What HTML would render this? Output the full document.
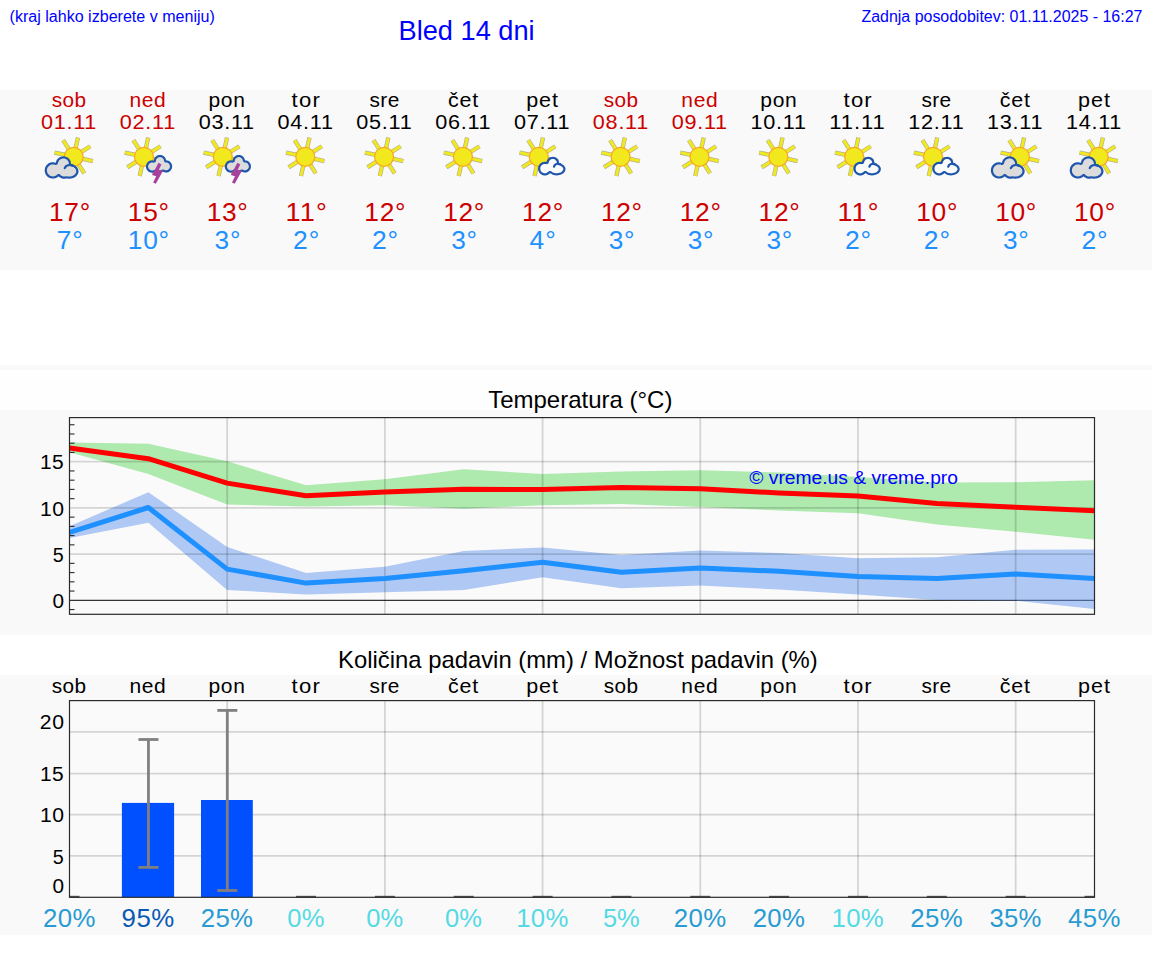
<!DOCTYPE html>
<html><head><meta charset="utf-8"><title>Bled 14 dni</title>
<style>
html,body{margin:0;padding:0;background:#ffffff;}
body{width:1152px;height:975px;position:relative;overflow:hidden;font-family:"Liberation Sans",sans-serif;}
text{font-family:"Liberation Sans",sans-serif;}
</style></head><body>
<svg width="1152" height="975" viewBox="0 0 1152 975" style="position:absolute;left:0;top:0" font-family="Liberation Sans, sans-serif">
<defs><g id="sun"><line x1="1.84" y1="-8.3" x2="4.26" y2="-19.23" stroke="#aeae98" stroke-width="4.3"/><line x1="7.17" y1="-4.57" x2="16.61" y2="-10.58" stroke="#aeae98" stroke-width="4.3"/><line x1="8.3" y1="1.84" x2="19.23" y2="4.26" stroke="#aeae98" stroke-width="4.3"/><line x1="4.57" y1="7.17" x2="10.58" y2="16.61" stroke="#aeae98" stroke-width="4.3"/><line x1="-1.84" y1="8.3" x2="-4.26" y2="19.23" stroke="#aeae98" stroke-width="4.3"/><line x1="-7.17" y1="4.57" x2="-16.61" y2="10.58" stroke="#aeae98" stroke-width="4.3"/><line x1="-8.3" y1="-1.84" x2="-19.23" y2="-4.26" stroke="#aeae98" stroke-width="4.3"/><line x1="-4.57" y1="-7.17" x2="-10.58" y2="-16.61" stroke="#aeae98" stroke-width="4.3"/><line x1="1.84" y1="-8.3" x2="4.2" y2="-18.94" stroke="#f1e91e" stroke-width="3.0"/><line x1="7.17" y1="-4.57" x2="16.37" y2="-10.43" stroke="#f1e91e" stroke-width="3.0"/><line x1="8.3" y1="1.84" x2="18.94" y2="4.2" stroke="#f1e91e" stroke-width="3.0"/><line x1="4.57" y1="7.17" x2="10.43" y2="16.37" stroke="#f1e91e" stroke-width="3.0"/><line x1="-1.84" y1="8.3" x2="-4.2" y2="18.94" stroke="#f1e91e" stroke-width="3.0"/><line x1="-7.17" y1="4.57" x2="-16.37" y2="10.43" stroke="#f1e91e" stroke-width="3.0"/><line x1="-8.3" y1="-1.84" x2="-18.94" y2="-4.2" stroke="#f1e91e" stroke-width="3.0"/><line x1="-4.57" y1="-7.17" x2="-10.43" y2="-16.37" stroke="#f1e91e" stroke-width="3.0"/><circle r="9.5" fill="#f1e91e" stroke="#f7a826" stroke-width="1.2"/></g><g id="cbig"><path d="M-2.7,6.2 L-2.9,5.2 L-3.2,4.3 L-3.6,3.4 L-3.9,2.9 L-4.2,2.5 L-4.9,1.8 L-5.6,1.1 L-6.4,0.5 L-7.4,0.1 L-7.8,-0.1 L-8.8,-0.4 L-9.8,-0.5 L-10.3,-0.5 L-11.3,-0.4 L-12.3,-0.2 L-13.2,0.1 L-14.1,0.5 L-15.0,1.1 L-15.7,1.8 L-16.4,2.5 L-17.0,3.3 L-17.4,4.3 L-17.7,5.2 L-17.9,5.9 L-19.2,5.6 L-20.3,5.4 L-20.8,5.4 L-21.9,5.5 L-22.9,5.7 L-23.4,5.8 L-24.4,6.2 L-25.4,6.8 L-26.2,7.4 L-27.0,8.2 L-27.6,9.0 L-28.2,10.0 L-28.6,11.0 L-28.8,12.0 L-29.0,13.1 L-29.0,14.1 L-28.8,15.2 L-28.7,15.7 L-28.4,16.7 L-27.9,17.7 L-27.3,18.6 L-26.6,19.4 L-25.8,20.1 L-24.9,20.7 L-23.9,21.2 L-22.9,21.5 L-21.9,21.7 L-20.8,21.8 L-19.7,21.7 L-18.7,21.5 L-18.2,21.4 L-17.2,21.0 L-16.7,20.7 L-15.8,20.1 L-15.1,19.4 L-14.7,19.9 L-14.1,20.4 L-13.1,21.0 L-12.4,21.4 L-11.6,21.6 L-10.3,21.9 L-9.5,21.9 L-8.7,21.9 L-7.8,21.7 L-7.3,21.6 L-5.8,21.8 L-5.2,21.9 L-4.0,21.9 L-3.4,21.8 L-2.2,21.6 L-1.6,21.5 L-0.4,21.1 L0.6,20.7 L1.6,20.1 L2.5,19.4 L2.9,19.0 L3.5,18.2 L4.1,17.3 L4.3,16.9 L4.6,15.9 L4.8,15.0 L4.8,14.0 L4.7,13.5 L4.5,12.6 L4.1,11.7 L3.5,10.8 L2.9,10.0 L2.0,9.3 L1.1,8.6 L0.6,8.3 L0.1,8.1 L-1.0,7.7 L-2.6,7.3Z" fill="#1f56ad"/><path d="M-4.8,6.5 L-5.1,5.4 L-5.4,4.8 L-5.7,4.1 L-6.4,3.3 L-7.0,2.8 L-7.6,2.4 L-8.5,2.0 L-9.2,1.8 L-9.9,1.7 L-11.0,1.7 L-11.7,1.9 L-12.4,2.1 L-13.0,2.4 L-13.6,2.8 L-14.2,3.3 L-14.7,3.9 L-15.1,4.5 L-15.4,5.1 L-15.6,5.8 L-15.8,6.5 L-15.9,6.9 L-16.3,7.4 L-16.8,7.8 L-17.4,8.1 L-18.0,8.1 L-18.5,8.1 L-19.2,7.8 L-20.0,7.7 L-21.2,7.6 L-22.0,7.7 L-22.7,7.9 L-23.5,8.2 L-24.1,8.6 L-25.0,9.4 L-25.8,10.3 L-26.2,10.9 L-26.5,11.7 L-26.7,12.4 L-26.8,13.6 L-26.7,14.4 L-26.6,15.2 L-26.3,15.9 L-26.0,16.6 L-25.6,17.3 L-25.0,17.8 L-24.5,18.4 L-23.8,18.8 L-23.1,19.1 L-22.4,19.4 L-21.6,19.5 L-20.4,19.6 L-19.6,19.5 L-18.9,19.3 L-18.1,19.0 L-17.5,18.6 L-16.4,17.7 L-16.0,17.5 L-15.6,17.3 L-15.2,17.3 L-14.6,17.3 L-14.0,17.5 L-13.6,17.8 L-12.7,18.7 L-12.3,19.0 L-11.8,19.2 L-11.0,19.5 L-10.1,19.7 L-9.5,19.7 L-8.9,19.7 L-7.7,19.4 L-7.2,19.4 L-6.1,19.6 L-5.1,19.7 L-3.6,19.6 L-2.1,19.4 L-0.8,18.9 L-0.0,18.5 L1.0,17.7 L1.5,17.2 L2.1,16.3 L2.4,15.7 L2.6,14.8 L2.5,13.9 L2.4,13.3 L2.0,12.4 L1.5,11.8 L1.0,11.3 L0.3,10.7 L-0.4,10.3 L-1.2,9.9 L-2.1,9.6 L-3.4,9.3 L-3.8,9.1 L-4.2,8.8 L-4.6,8.3 L-4.7,7.9 L-4.8,7.4Z" fill="#dcdcdc"/><path d="M-9,11.4 C-8,8.6 -4.5,7.6 -1,8.6" fill="none" stroke="#1f56ad" stroke-width="2.2" stroke-linecap="round"/></g><g id="csmall"><path d="M20.3,6.2 L20.2,5.1 L20.0,4.3 L19.7,3.5 L19.2,2.8 L18.5,1.8 L17.8,1.3 L17.2,0.8 L16.4,0.5 L15.6,0.2 L14.4,0.0 L13.2,0.1 L12.4,0.2 L11.6,0.5 L10.9,0.8 L10.2,1.3 L9.5,1.8 L9.0,2.5 L8.5,3.1 L8.2,3.9 L7.9,4.7 L7.8,5.2 L6.5,5.0 L5.7,5.0 L4.8,5.1 L3.9,5.3 L3.1,5.7 L2.3,6.1 L1.6,6.6 L0.9,7.3 L0.4,8.0 L-0.0,8.8 L-0.4,9.6 L-0.6,10.5 L-0.8,11.8 L-0.7,12.7 L-0.5,13.6 L-0.2,14.4 L0.2,15.2 L0.7,16.0 L1.3,16.6 L1.9,17.2 L2.7,17.7 L3.5,18.1 L4.3,18.4 L5.2,18.6 L6.1,18.6 L7.0,18.6 L7.9,18.4 L8.7,18.1 L9.5,17.7 L10.3,17.2 L10.9,16.6 L11.3,16.3 L12.3,17.0 L13.6,17.8 L14.7,18.1 L16.3,18.5 L18.0,18.6 L19.1,18.5 L20.8,18.3 L22.3,17.8 L23.3,17.3 L24.2,16.8 L24.9,16.1 L25.2,15.8 L25.8,15.1 L26.2,14.3 L26.4,13.9 L26.6,13.1 L26.7,12.3 L26.6,11.5 L26.4,10.7 L26.0,9.9 L25.5,9.2 L24.9,8.5 L24.5,8.1 L23.7,7.6 L22.8,7.1 L21.8,6.6Z" fill="#1f56ad"/><path d="M9.2,15.3 L10.1,14.5 L10.5,14.2 L11.1,14.1 L11.5,14.1 L12.0,14.2 L12.4,14.4 L13.4,15.2 L14.1,15.6 L14.9,15.9 L15.7,16.1 L17.1,16.4 L18.0,16.4 L18.9,16.4 L19.8,16.2 L20.7,16.0 L21.9,15.6 L22.6,15.2 L23.4,14.5 L24.0,13.8 L24.3,13.2 L24.5,12.5 L24.5,11.9 L24.2,11.2 L24.0,10.8 L23.4,10.1 L22.9,9.6 L22.2,9.2 L21.5,8.9 L20.7,8.6 L19.4,8.2 L19.0,8.0 L18.7,7.7 L18.4,7.4 L18.2,7.0 L18.1,6.5 L18.0,5.5 L17.8,4.7 L17.4,4.0 L17.1,3.6 L16.7,3.2 L16.0,2.8 L15.6,2.5 L15.1,2.3 L14.3,2.2 L13.7,2.2 L13.2,2.3 L12.4,2.5 L12.0,2.8 L11.5,3.0 L10.9,3.6 L10.6,4.0 L10.2,4.7 L9.8,6.1 L9.4,6.7 L9.1,6.9 L8.6,7.2 L8.1,7.3 L7.7,7.4 L6.7,7.2 L5.8,7.2 L4.9,7.3 L4.0,7.6 L3.3,8.1 L2.8,8.5 L2.4,9.0 L1.9,9.7 L1.6,10.6 L1.5,11.5 L1.5,12.4 L1.7,13.3 L1.9,13.9 L2.2,14.4 L2.8,15.1 L3.3,15.5 L4.0,16.0 L4.6,16.2 L5.5,16.4 L6.4,16.4 L7.0,16.4 L7.6,16.2 L8.4,15.8Z" fill="#fbfbfb"/><path d="M15.2,9.9 C15.8,7.6 18.5,6.6 21.5,7.2" fill="none" stroke="#1f56ad" stroke-width="2.2" stroke-linecap="round"/></g><g id="cthund"><path d="M22.1,3.5 L21.9,2.3 L21.6,1.6 L20.9,0.5 L20.4,-0.1 L19.8,-0.6 L18.7,-1.3 L18.0,-1.6 L17.2,-1.8 L16.0,-1.9 L14.8,-1.8 L14.0,-1.6 L13.3,-1.3 L12.6,-0.9 L11.9,-0.4 L11.3,0.2 L10.8,0.9 L10.4,1.6 L10.1,2.3 L9.9,3.1 L9.8,3.7 L9.0,3.6 L8.2,3.5 L7.0,3.6 L6.2,3.8 L5.5,4.1 L4.8,4.5 L4.1,5.0 L3.3,5.9 L2.8,6.6 L2.5,7.3 L2.1,8.5 L2.0,9.3 L2.0,10.1 L2.1,10.9 L2.3,11.7 L2.6,12.4 L3.0,13.1 L3.5,13.8 L4.4,14.6 L5.1,15.1 L5.8,15.4 L6.6,15.7 L7.4,15.8 L8.6,15.9 L9.4,15.8 L10.6,15.4 L11.5,15.0 L12.5,15.4 L13.4,15.6 L14.3,15.8 L15.2,15.8 L16.6,15.7 L17.5,15.5 L18.3,15.3 L19.1,14.9 L19.8,15.2 L20.5,15.5 L21.3,15.6 L22.1,15.7 L23.3,15.6 L24.1,15.4 L24.8,15.1 L25.5,14.7 L26.4,13.9 L27.2,13.0 L27.6,12.3 L27.9,11.6 L28.1,10.4 L28.2,9.6 L28.1,8.4 L27.7,7.3 L27.4,6.6 L26.9,5.9 L26.1,5.0 L25.2,4.3 L24.4,4.0 L23.3,3.6Z" fill="#1f56ad"/><path d="M9.8,5.9 L8.5,5.7 L7.7,5.7 L6.9,5.9 L6.2,6.2 L5.6,6.7 L5.0,7.3 L4.6,7.9 L4.3,8.7 L4.2,9.4 L4.2,10.2 L4.4,11.0 L4.7,11.7 L5.2,12.3 L5.8,12.9 L6.4,13.3 L7.2,13.6 L7.9,13.7 L8.5,13.7 L9.0,13.6 L9.7,13.4 L10.7,12.9 L11.1,12.8 L11.5,12.8 L12.2,12.9 L12.9,13.2 L13.8,13.5 L14.9,13.6 L15.5,13.6 L16.2,13.5 L16.9,13.4 L17.5,13.2 L18.4,12.8 L19.1,12.7 L19.7,12.8 L20.6,13.2 L21.3,13.4 L21.8,13.5 L22.6,13.5 L23.4,13.3 L23.8,13.1 L24.3,12.8 L24.7,12.5 L25.0,12.2 L25.3,11.8 L25.7,11.1 L25.9,10.6 L26.0,10.1 L26.0,9.6 L26.0,9.1 L25.9,8.6 L25.6,7.9 L25.3,7.4 L25.0,7.0 L24.5,6.5 L24.0,6.2 L23.6,6.0 L22.9,5.8 L21.9,5.7 L21.4,5.6 L21.0,5.4 L20.7,5.2 L20.4,4.8 L20.2,4.5 L20.0,4.1 L19.9,3.3 L19.7,2.8 L19.5,2.3 L19.2,1.9 L18.6,1.3 L18.2,1.0 L17.5,0.6 L17.0,0.4 L16.3,0.3 L15.7,0.3 L15.2,0.4 L14.5,0.6 L13.8,1.0 L13.4,1.3 L13.0,1.7 L12.5,2.3 L12.3,2.8 L12.1,3.3 L12.0,4.1 L11.9,4.6 L11.7,4.9 L11.4,5.3 L11.1,5.5 L10.5,5.8Z" fill="#dcdcdc"/></g></defs>
<rect x="0" y="90" width="1152" height="180" fill="#f9f9f9"/>
<rect x="0" y="365" width="1152" height="5" fill="#f9f9f9"/>
<rect x="0" y="370" width="1152" height="40" fill="#fefefe"/>
<rect x="0" y="410" width="1152" height="225" fill="#f9f9f9"/>
<rect x="0" y="675" width="1152" height="260" fill="#f9f9f9"/>
<text x="9.55" y="22.1" font-size="16" fill="#0000ff" textLength="205.36" lengthAdjust="spacingAndGlyphs">(kraj lahko izberete v meniju)</text>
<text x="398.55" y="39.9" font-size="27.2" fill="#0000ff" textLength="136.06" lengthAdjust="spacingAndGlyphs">Bled 14 dni</text>
<text x="861.4" y="22.1" font-size="16" fill="#0000ff" textLength="281.02" lengthAdjust="spacingAndGlyphs">Zadnja posodobitev: 01.11.2025 - 16:27</text>
<text transform="translate(51.72,106.75) scale(1.0270,1)" font-size="20.23" fill="#cc0000" letter-spacing="0.42">sob</text>
<text transform="translate(40.94,128.85) scale(1.0576,1)" font-size="20.46" fill="#cc0000" letter-spacing="0.69">01.11</text>
<text transform="translate(48.98,221.15) scale(1.0368,1)" font-size="25.44" fill="#cc0000" letter-spacing="0.64">17°</text>
<text transform="translate(56.77,248.8) scale(1.0343,1)" font-size="25.44" fill="#1e90ff" letter-spacing="0.74">7°</text>
<use href="#sun" x="73.7" y="156.8"/><use href="#cbig" x="73.7" y="156.8"/>
<text transform="translate(129.39,106.75) scale(1.0410,1)" font-size="20.23" fill="#cc0000" letter-spacing="0.64">ned</text>
<text transform="translate(119.79,128.85) scale(1.0576,1)" font-size="20.46" fill="#cc0000" letter-spacing="0.69">02.11</text>
<text transform="translate(127.83,221.15) scale(1.0368,1)" font-size="25.44" fill="#cc0000" letter-spacing="0.64">15°</text>
<text transform="translate(127.83,248.8) scale(1.0368,1)" font-size="25.44" fill="#1e90ff" letter-spacing="0.64">10°</text>
<use href="#sun" x="143.95" y="156.8"/><use href="#cthund" x="143.95" y="156.8"/>
<polygon points="158.55,162.8 161.45,164.4 158.85,169.8 163.05,170.8 155.85,183.8 153.15,182.4 156.15,176.3 152.05,175.1" fill="#a8409e"/>
<text transform="translate(208.4,106.75) scale(1.0409,1)" font-size="20.23" fill="#000000" letter-spacing="0.64">pon</text>
<text transform="translate(198.63,128.85) scale(1.0576,1)" font-size="20.46" fill="#000000" letter-spacing="0.69">03.11</text>
<text transform="translate(206.67,221.15) scale(1.0368,1)" font-size="25.44" fill="#cc0000" letter-spacing="0.64">13°</text>
<text transform="translate(214.6,248.8) scale(1.0311,1)" font-size="25.44" fill="#1e90ff" letter-spacing="0.68">3°</text>
<use href="#sun" x="222.79" y="156.8"/><use href="#cthund" x="222.79" y="156.8"/>
<polygon points="237.39,162.8 240.29,164.4 237.69,169.8 241.89,170.8 234.69,183.8 231.99,182.4 234.99,176.3 230.89,175.1" fill="#a8409e"/>
<text transform="translate(291.61,106.75) scale(1.0945,1)" font-size="20.23" fill="#000000" letter-spacing="1.09">tor</text>
<text transform="translate(277.48,128.85) scale(1.0576,1)" font-size="20.46" fill="#000000" letter-spacing="0.69">04.11</text>
<text transform="translate(285.46,221.15) scale(1.0658,1)" font-size="25.44" fill="#cc0000" letter-spacing="1.09">11°</text>
<text transform="translate(293.05,248.8) scale(1.0399,1)" font-size="25.44" fill="#1e90ff" letter-spacing="0.86">2°</text>
<use href="#sun" x="305.24" y="156.8"/>
<text transform="translate(369.51,106.75) scale(1.0291,1)" font-size="20.23" fill="#000000" letter-spacing="0.39">sre</text>
<text transform="translate(356.32,128.85) scale(1.0576,1)" font-size="20.46" fill="#000000" letter-spacing="0.69">05.11</text>
<text transform="translate(364.37,221.15) scale(1.0368,1)" font-size="25.44" fill="#cc0000" letter-spacing="0.64">12°</text>
<text transform="translate(371.9,248.8) scale(1.0399,1)" font-size="25.44" fill="#1e90ff" letter-spacing="0.86">2°</text>
<use href="#sun" x="384.08" y="156.8"/>
<text transform="translate(447.88,106.75) scale(1.0602,1)" font-size="20.23" fill="#000000" letter-spacing="0.78">čet</text>
<text transform="translate(435.17,128.85) scale(1.0576,1)" font-size="20.46" fill="#000000" letter-spacing="0.69">06.11</text>
<text transform="translate(443.21,221.15) scale(1.0368,1)" font-size="25.44" fill="#cc0000" letter-spacing="0.64">12°</text>
<text transform="translate(451.14,248.8) scale(1.0311,1)" font-size="25.44" fill="#1e90ff" letter-spacing="0.68">3°</text>
<use href="#sun" x="462.93" y="156.8"/>
<text transform="translate(526.13,106.75) scale(1.0658,1)" font-size="20.23" fill="#000000" letter-spacing="0.88">pet</text>
<text transform="translate(514.02,128.85) scale(1.0576,1)" font-size="20.46" fill="#000000" letter-spacing="0.69">07.11</text>
<text transform="translate(522.06,221.15) scale(1.0368,1)" font-size="25.44" fill="#cc0000" letter-spacing="0.64">12°</text>
<text transform="translate(529.62,248.8) scale(1.0388,1)" font-size="25.44" fill="#1e90ff" letter-spacing="0.86">4°</text>
<use href="#sun" x="538.78" y="156.8"/><use href="#csmall" x="538.78" y="156.8"/>
<text transform="translate(603.64,106.75) scale(1.0270,1)" font-size="20.23" fill="#cc0000" letter-spacing="0.42">sob</text>
<text transform="translate(592.86,128.85) scale(1.0576,1)" font-size="20.46" fill="#cc0000" letter-spacing="0.69">08.11</text>
<text transform="translate(600.9,221.15) scale(1.0368,1)" font-size="25.44" fill="#cc0000" letter-spacing="0.64">12°</text>
<text transform="translate(608.83,248.8) scale(1.0311,1)" font-size="25.44" fill="#1e90ff" letter-spacing="0.68">3°</text>
<use href="#sun" x="620.62" y="156.8"/>
<text transform="translate(681.32,106.75) scale(1.0410,1)" font-size="20.23" fill="#cc0000" letter-spacing="0.64">ned</text>
<text transform="translate(671.71,128.85) scale(1.0576,1)" font-size="20.46" fill="#cc0000" letter-spacing="0.69">09.11</text>
<text transform="translate(679.75,221.15) scale(1.0368,1)" font-size="25.44" fill="#cc0000" letter-spacing="0.64">12°</text>
<text transform="translate(687.68,248.8) scale(1.0311,1)" font-size="25.44" fill="#1e90ff" letter-spacing="0.68">3°</text>
<use href="#sun" x="699.47" y="156.8"/>
<text transform="translate(760.33,106.75) scale(1.0409,1)" font-size="20.23" fill="#000000" letter-spacing="0.64">pon</text>
<text transform="translate(750.53,128.85) scale(1.0584,1)" font-size="20.46" fill="#000000" letter-spacing="0.69">10.11</text>
<text transform="translate(758.6,221.15) scale(1.0368,1)" font-size="25.44" fill="#cc0000" letter-spacing="0.64">12°</text>
<text transform="translate(766.52,248.8) scale(1.0311,1)" font-size="25.44" fill="#1e90ff" letter-spacing="0.68">3°</text>
<use href="#sun" x="778.32" y="156.8"/>
<text transform="translate(843.54,106.75) scale(1.0945,1)" font-size="20.23" fill="#000000" letter-spacing="1.09">tor</text>
<text transform="translate(829.35,128.85) scale(1.0756,1)" font-size="20.46" fill="#000000" letter-spacing="0.86">11.11</text>
<text transform="translate(837.39,221.15) scale(1.0658,1)" font-size="25.44" fill="#cc0000" letter-spacing="1.09">11°</text>
<text transform="translate(844.98,248.8) scale(1.0399,1)" font-size="25.44" fill="#1e90ff" letter-spacing="0.86">2°</text>
<use href="#sun" x="854.16" y="156.8"/><use href="#csmall" x="854.16" y="156.8"/>
<text transform="translate(921.43,106.75) scale(1.0291,1)" font-size="20.23" fill="#000000" letter-spacing="0.39">sre</text>
<text transform="translate(908.22,128.85) scale(1.0584,1)" font-size="20.46" fill="#000000" letter-spacing="0.69">12.11</text>
<text transform="translate(916.29,221.15) scale(1.0368,1)" font-size="25.44" fill="#cc0000" letter-spacing="0.64">10°</text>
<text transform="translate(923.82,248.8) scale(1.0399,1)" font-size="25.44" fill="#1e90ff" letter-spacing="0.86">2°</text>
<use href="#sun" x="933.01" y="156.8"/><use href="#csmall" x="933.01" y="156.8"/>
<text transform="translate(999.81,106.75) scale(1.0602,1)" font-size="20.23" fill="#000000" letter-spacing="0.78">čet</text>
<text transform="translate(987.07,128.85) scale(1.0584,1)" font-size="20.46" fill="#000000" letter-spacing="0.69">13.11</text>
<text transform="translate(995.14,221.15) scale(1.0368,1)" font-size="25.44" fill="#cc0000" letter-spacing="0.64">10°</text>
<text transform="translate(1003.06,248.8) scale(1.0311,1)" font-size="25.44" fill="#1e90ff" letter-spacing="0.68">3°</text>
<use href="#sun" x="1019.85" y="156.8"/><use href="#cbig" x="1019.85" y="156.8"/>
<text transform="translate(1078.05,106.75) scale(1.0658,1)" font-size="20.23" fill="#000000" letter-spacing="0.88">pet</text>
<text transform="translate(1065.91,128.85) scale(1.0584,1)" font-size="20.46" fill="#000000" letter-spacing="0.69">14.11</text>
<text transform="translate(1073.98,221.15) scale(1.0368,1)" font-size="25.44" fill="#cc0000" letter-spacing="0.64">10°</text>
<text transform="translate(1081.52,248.8) scale(1.0399,1)" font-size="25.44" fill="#1e90ff" letter-spacing="0.86">2°</text>
<use href="#sun" x="1098.7" y="156.8"/><use href="#cbig" x="1098.7" y="156.8"/>
<text x="488.2" y="407.8" font-size="24" fill="#000" textLength="184.24" lengthAdjust="spacingAndGlyphs">Temperatura (°C)</text>
<rect x="69.5" y="417.6" width="1025.0" height="196.7" fill="#fafafa"/>
<clipPath id="tclip"><rect x="69.5" y="417.6" width="1025" height="196.7"/></clipPath>
<line x1="69.5" x2="1094.5" y1="600.3" y2="600.3" stroke="#333" stroke-width="1.2"/>
<g clip-path="url(#tclip)">
<polygon points="69.5,442.5 148.35,443.7 227.19,461.3 306.04,485.2 384.88,479.3 463.73,469.2 542.58,474.1 621.42,471.4 700.27,470.3 779.12,472.5 857.96,477 936.81,482.5 1015.65,482.3 1094.5,480.2 1094.5,539.7 1015.65,531.7 936.81,524.5 857.96,513.2 779.12,510.5 700.27,507.1 621.42,504.1 542.58,505.3 463.73,508.7 384.88,505.3 306.04,506.4 227.19,504.6 148.35,474.1 69.5,452.2" fill="#32cd32" fill-opacity="0.38"/>
<polygon points="69.5,526.3 148.35,492.2 227.19,547 306.04,573 384.88,566.7 463.73,551.1 542.58,547.5 621.42,555 700.27,550.4 779.12,553.1 857.96,558.3 936.81,557.2 1015.65,549.8 1094.5,549.4 1094.5,609 1015.65,600.6 936.81,600 857.96,594.4 779.12,589.6 700.27,585.4 621.42,588.3 542.58,577.3 463.73,589.9 384.88,592.2 306.04,594.4 227.19,590 148.35,522.7 69.5,538" fill="#6495ed" fill-opacity="0.5"/>
<g stroke="#000" stroke-opacity="0.15" stroke-width="1.8"><line x1="69.5" x2="1094.5" y1="554.1" y2="554.1"/><line x1="69.5" x2="1094.5" y1="507.9" y2="507.9"/><line x1="69.5" x2="1094.5" y1="461.7" y2="461.7"/><line x1="227.19" x2="227.19" y1="417.6" y2="614.3"/><line x1="384.88" x2="384.88" y1="417.6" y2="614.3"/><line x1="542.58" x2="542.58" y1="417.6" y2="614.3"/><line x1="700.27" x2="700.27" y1="417.6" y2="614.3"/><line x1="857.96" x2="857.96" y1="417.6" y2="614.3"/><line x1="1015.65" x2="1015.65" y1="417.6" y2="614.3"/></g>
<polyline points="69.5,448.1 148.35,458.7 227.19,483.1 306.04,495.8 384.88,492.1 463.73,489.2 542.58,489.6 621.42,487.6 700.27,488.8 779.12,493 857.96,496 936.81,503.4 1015.65,507.3 1094.5,510.8" fill="none" stroke="#ff0000" stroke-width="5" stroke-linejoin="round"/>
<polyline points="69.5,532.4 148.35,507.5 227.19,569.1 306.04,583.1 384.88,578.6 463.73,570.7 542.58,562.2 621.42,572.3 700.27,568 779.12,571.3 857.96,576.4 936.81,578.6 1015.65,574 1094.5,578.5" fill="none" stroke="#1e90ff" stroke-width="5" stroke-linejoin="round"/>
</g>
<text x="749.35" y="483.75" font-size="19.2" fill="#0000ff" textLength="208.59" lengthAdjust="spacingAndGlyphs">© vreme.us &amp; vreme.pro</text>
<g stroke="#2a2a2a" stroke-width="1.1"><line x1="69.5" x2="74.5" y1="609.54" y2="609.54"/><line x1="69.5" x2="74.5" y1="591.06" y2="591.06"/><line x1="69.5" x2="74.5" y1="581.82" y2="581.82"/><line x1="69.5" x2="74.5" y1="572.58" y2="572.58"/><line x1="69.5" x2="74.5" y1="563.34" y2="563.34"/><line x1="69.5" x2="74.5" y1="544.86" y2="544.86"/><line x1="69.5" x2="74.5" y1="535.62" y2="535.62"/><line x1="69.5" x2="74.5" y1="526.38" y2="526.38"/><line x1="69.5" x2="74.5" y1="517.14" y2="517.14"/><line x1="69.5" x2="74.5" y1="498.66" y2="498.66"/><line x1="69.5" x2="74.5" y1="489.42" y2="489.42"/><line x1="69.5" x2="74.5" y1="480.18" y2="480.18"/><line x1="69.5" x2="74.5" y1="470.94" y2="470.94"/><line x1="69.5" x2="74.5" y1="452.46" y2="452.46"/><line x1="69.5" x2="74.5" y1="443.22" y2="443.22"/><line x1="69.5" x2="74.5" y1="433.98" y2="433.98"/><line x1="69.5" x2="74.5" y1="424.74" y2="424.74"/></g>
<rect x="69.5" y="417.6" width="1025.0" height="196.7" fill="none" stroke="#2a2a2a" stroke-width="1.2"/>
<text x="52.58" y="607.9" font-size="20.46" fill="#000" textLength="11.57" lengthAdjust="spacingAndGlyphs">0</text>
<text x="52.75" y="561.7" font-size="20.46" fill="#000" textLength="10.96" lengthAdjust="spacingAndGlyphs">5</text>
<text transform="translate(39.91,515.5) scale(1.0334,1)" font-size="20.46" fill="#000" letter-spacing="0.68">10</text>
<text transform="translate(39.93,469.3) scale(1.0242,1)" font-size="20.46" fill="#000" letter-spacing="0.49">15</text>
<text x="338.01" y="667.7" font-size="24" fill="#000" textLength="479.76" lengthAdjust="spacingAndGlyphs">Količina padavin (mm) / Možnost padavin (%)</text>
<rect x="69.5" y="700.6" width="1025.0" height="196.7" fill="#fafafa"/>
<g stroke="#000" stroke-opacity="0.15" stroke-width="1.8"><line x1="69.5" x2="1094.5" y1="731.8" y2="731.8"/><line x1="69.5" x2="1094.5" y1="773.6" y2="773.6"/><line x1="69.5" x2="1094.5" y1="814.6" y2="814.6"/><line x1="69.5" x2="1094.5" y1="855.9" y2="855.9"/><line x1="227.19" x2="227.19" y1="700.6" y2="897.3"/><line x1="384.88" x2="384.88" y1="700.6" y2="897.3"/><line x1="542.58" x2="542.58" y1="700.6" y2="897.3"/><line x1="700.27" x2="700.27" y1="700.6" y2="897.3"/><line x1="857.96" x2="857.96" y1="700.6" y2="897.3"/><line x1="1015.65" x2="1015.65" y1="700.6" y2="897.3"/></g>
<rect x="121.9" y="802.9" width="52.2" height="94.4" fill="#0050ff"/>
<rect x="201.0" y="800.0" width="51.8" height="97.3" fill="#0050ff"/>
<g stroke="#808080" stroke-width="2.8"><line x1="148.45" x2="148.45" y1="739.5" y2="867.4"/><line x1="138.45" x2="158.45" y1="739.5" y2="739.5"/><line x1="138.45" x2="158.45" y1="867.4" y2="867.4"/><line x1="227.3" x2="227.3" y1="710.4" y2="890.5"/><line x1="217.3" x2="237.3" y1="710.4" y2="710.4"/><line x1="217.3" x2="237.3" y1="890.5" y2="890.5"/></g>
<g stroke="#555" stroke-width="1.8"><line x1="69.5" x2="79.5" y1="896.7" y2="896.7"/><line x1="296.04" x2="316.04" y1="896.7" y2="896.7"/><line x1="374.88" x2="394.88" y1="896.7" y2="896.7"/><line x1="453.73" x2="473.73" y1="896.7" y2="896.7"/><line x1="532.58" x2="552.58" y1="896.7" y2="896.7"/><line x1="611.42" x2="631.42" y1="896.7" y2="896.7"/><line x1="690.27" x2="710.27" y1="896.7" y2="896.7"/><line x1="769.12" x2="789.12" y1="896.7" y2="896.7"/><line x1="847.96" x2="867.96" y1="896.7" y2="896.7"/><line x1="926.81" x2="946.81" y1="896.7" y2="896.7"/><line x1="1005.65" x2="1025.65" y1="896.7" y2="896.7"/><line x1="1084.5" x2="1094.5" y1="896.7" y2="896.7"/></g>
<rect x="69.5" y="700.6" width="1025.0" height="196.7" fill="none" stroke="#2a2a2a" stroke-width="1.2"/>
<text transform="translate(39.79,729.3) scale(1.0358,1)" font-size="20.46" fill="#000" letter-spacing="0.75">20</text>
<text transform="translate(39.93,781.1) scale(1.0242,1)" font-size="20.46" fill="#000" letter-spacing="0.49">15</text>
<text transform="translate(39.91,822.3) scale(1.0334,1)" font-size="20.46" fill="#000" letter-spacing="0.68">10</text>
<text x="52.75" y="863.6" font-size="20.46" fill="#000" textLength="10.96" lengthAdjust="spacingAndGlyphs">5</text>
<text x="52.58" y="892.6" font-size="20.46" fill="#000" textLength="11.57" lengthAdjust="spacingAndGlyphs">0</text>
<text transform="translate(51.72,692.7) scale(1.0270,1)" font-size="20.23" fill="#000" letter-spacing="0.42">sob</text>
<text transform="translate(129.39,692.7) scale(1.0410,1)" font-size="20.23" fill="#000" letter-spacing="0.64">ned</text>
<text transform="translate(208.4,692.7) scale(1.0409,1)" font-size="20.23" fill="#000" letter-spacing="0.64">pon</text>
<text transform="translate(291.61,692.7) scale(1.0945,1)" font-size="20.23" fill="#000" letter-spacing="1.09">tor</text>
<text transform="translate(369.51,692.7) scale(1.0291,1)" font-size="20.23" fill="#000" letter-spacing="0.39">sre</text>
<text transform="translate(447.88,692.7) scale(1.0602,1)" font-size="20.23" fill="#000" letter-spacing="0.78">čet</text>
<text transform="translate(526.13,692.7) scale(1.0658,1)" font-size="20.23" fill="#000" letter-spacing="0.88">pet</text>
<text transform="translate(603.64,692.7) scale(1.0270,1)" font-size="20.23" fill="#000" letter-spacing="0.42">sob</text>
<text transform="translate(681.32,692.7) scale(1.0410,1)" font-size="20.23" fill="#000" letter-spacing="0.64">ned</text>
<text transform="translate(760.33,692.7) scale(1.0409,1)" font-size="20.23" fill="#000" letter-spacing="0.64">pon</text>
<text transform="translate(843.54,692.7) scale(1.0945,1)" font-size="20.23" fill="#000" letter-spacing="1.09">tor</text>
<text transform="translate(921.43,692.7) scale(1.0291,1)" font-size="20.23" fill="#000" letter-spacing="0.39">sre</text>
<text transform="translate(999.81,692.7) scale(1.0602,1)" font-size="20.23" fill="#000" letter-spacing="0.78">čet</text>
<text transform="translate(1078.05,692.7) scale(1.0658,1)" font-size="20.23" fill="#000" letter-spacing="0.88">pet</text>
<text transform="translate(43.01,926.6) scale(1.0140,1)" font-size="25.44" fill="#289bd2" letter-spacing="0.34">20%</text>
<text transform="translate(121.6,926.6) scale(1.0165,1)" font-size="25.44" fill="#0a5ab4" letter-spacing="0.4">95%</text>
<text transform="translate(200.7,926.6) scale(1.0140,1)" font-size="25.44" fill="#289bd2" letter-spacing="0.34">25%</text>
<text transform="translate(287.32,926.6) scale(1.0036,1)" font-size="25.44" fill="#55dae4" letter-spacing="0.12">0%</text>
<text transform="translate(366.17,926.6) scale(1.0036,1)" font-size="25.44" fill="#55dae4" letter-spacing="0.12">0%</text>
<text transform="translate(445.01,926.6) scale(1.0036,1)" font-size="25.44" fill="#55dae4" letter-spacing="0.12">0%</text>
<text transform="translate(516.2,926.6) scale(1.0129,1)" font-size="25.44" fill="#55dae4" letter-spacing="0.31">10%</text>
<text x="602.96" y="926.6" font-size="25.44" fill="#55dae4" letter-spacing="0">5%</text>
<text transform="translate(673.78,926.6) scale(1.0140,1)" font-size="25.44" fill="#289bd2" letter-spacing="0.34">20%</text>
<text transform="translate(752.63,926.6) scale(1.0140,1)" font-size="25.44" fill="#289bd2" letter-spacing="0.34">20%</text>
<text transform="translate(831.59,926.6) scale(1.0129,1)" font-size="25.44" fill="#55dae4" letter-spacing="0.31">10%</text>
<text transform="translate(910.32,926.6) scale(1.0140,1)" font-size="25.44" fill="#289bd2" letter-spacing="0.34">25%</text>
<text transform="translate(989.55,926.6) scale(1.0101,1)" font-size="25.44" fill="#289bd2" letter-spacing="0.25">35%</text>
<text transform="translate(1068.02,926.6) scale(1.0138,1)" font-size="25.44" fill="#289bd2" letter-spacing="0.34">45%</text>
</svg>
</body></html>
